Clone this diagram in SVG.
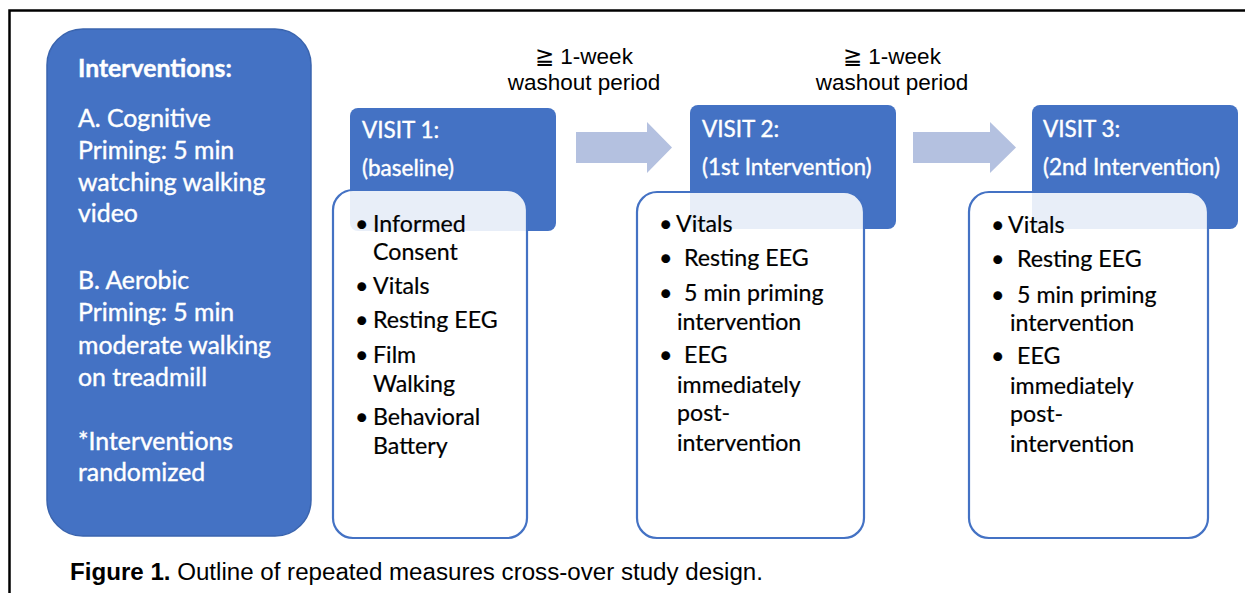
<svg xmlns="http://www.w3.org/2000/svg" width="1245" height="593" viewBox="0 0 1245 593">
<style>
.frame{fill:none;stroke:#000;stroke-width:2.5}
.intv{fill:#4472C4;stroke:#3A64AE;stroke-width:1.5}
.hdr{fill:#4472C4}
.body{fill:#fff;fill-opacity:0.88;stroke:#4472C4;stroke-width:2.2}
.arrow{fill:#B4C1E0}
.wt{font-family:"Lato","Open Sans",sans-serif;fill:#fff;stroke:#fff;stroke-width:0.4;font-size:24.8px}
.ht{font-family:"Lato","Open Sans",sans-serif;fill:#fff;stroke:#fff;stroke-width:0.4;font-size:22.5px}
.bt{font-family:"Lato","Open Sans",sans-serif;fill:#000;stroke:#000;stroke-width:0.2;font-size:23.2px}
.wash{font-family:"Liberation Sans",Arial,sans-serif;fill:#000;font-size:22.5px;text-anchor:middle}
.cap{font-family:"Liberation Sans",Arial,sans-serif;fill:#000;font-size:23px}
</style>
<path class="frame" d="M9.5,593 V10.5 H1245"/>
<g id="interventions">
<rect class="intv" x="47" y="29" width="264" height="507" rx="36"/>
<text class="wt" x="78" y="77" font-weight="bold" stroke-width="0">Interventions:</text>
<text class="wt" x="78" y="127">A. Cognitive</text>
<text class="wt" x="78" y="159">Priming: 5 min</text>
<text class="wt" x="78" y="191">watching walking</text>
<text class="wt" x="78" y="222">video</text>
<text class="wt" x="78" y="289">B. Aerobic</text>
<text class="wt" x="78" y="321">Priming: 5 min</text>
<text class="wt" x="78" y="354">moderate walking</text>
<text class="wt" x="78" y="386">on treadmill</text>
<text class="wt" x="78" y="450">*Interventions</text>
<text class="wt" x="78" y="481">randomized</text>
</g>
<g id="connectors">
<polygon class="arrow" points="576,132 647,132 647,122 672,147.5 647,173 647,163 576,163"/>
<polygon class="arrow" points="913,132 990,132 990,122 1016,147.5 990,173 990,163 913,163"/>
<text class="wash" x="584" y="64">≧ 1-week</text>
<text class="wash" x="584" y="90">washout period</text>
<text class="wash" x="892" y="64">≧ 1-week</text>
<text class="wash" x="892" y="90">washout period</text>
</g>
<g id="visit1">
<rect class="hdr" x="350" y="108" width="206" height="123" rx="8"/>
<text class="ht" x="362" y="138">VISIT 1:</text>
<text class="ht" x="362" y="176">(baseline)</text>
<rect class="body" x="333" y="190" width="194" height="348" rx="20"/>
<g class="bt">
<text x="355" y="232">•</text><text x="373" y="232">Informed</text>
<text x="373" y="260">Consent</text>
<text x="355" y="294">•</text><text x="373" y="294">Vitals</text>
<text x="355" y="328">•</text><text x="373" y="328">Resting EEG</text>
<text x="355" y="363">•</text><text x="373" y="363">Film</text>
<text x="373" y="392">Walking</text>
<text x="355" y="425">•</text><text x="373" y="425">Behavioral</text>
<text x="373" y="454">Battery</text>
</g>
</g>
<g id="visit2">
<rect class="hdr" x="690" y="105" width="206" height="124" rx="8"/>
<text class="ht" x="702" y="137">VISIT 2:</text>
<text class="ht" x="702" y="175">(1st Intervention)</text>
<rect class="body" x="637" y="192" width="227" height="346" rx="20"/>
<g class="bt">
<text x="659" y="232">•</text><text x="676" y="232">Vitals</text>
<text x="659" y="266">•</text><text x="684" y="266">Resting EEG</text>
<text x="659" y="301">•</text><text x="684" y="301">5 min priming</text>
<text x="677" y="330">intervention</text>
<text x="659" y="363">•</text><text x="684" y="363">EEG</text>
<text x="677" y="393">immediately</text>
<text x="677" y="421">post-</text>
<text x="677" y="451">intervention</text>
</g>
</g>
<g id="visit3">
<rect class="hdr" x="1032" y="105" width="206" height="124" rx="8"/>
<text class="ht" x="1043" y="137">VISIT 3:</text>
<text class="ht" x="1043" y="175">(2nd Intervention)</text>
<rect class="body" x="969" y="192" width="239" height="346" rx="20"/>
<g class="bt">
<text x="991" y="233">•</text><text x="1008" y="233">Vitals</text>
<text x="991" y="267">•</text><text x="1017" y="267">Resting EEG</text>
<text x="991" y="303">•</text><text x="1017" y="303">5 min priming</text>
<text x="1010" y="331">intervention</text>
<text x="991" y="364">•</text><text x="1017" y="364">EEG</text>
<text x="1010" y="394">immediately</text>
<text x="1010" y="422">post-</text>
<text x="1010" y="452">intervention</text>
</g>
</g>
<text class="cap" x="70" y="580" textLength="693" lengthAdjust="spacingAndGlyphs"><tspan font-weight="bold">Figure 1.</tspan> Outline of repeated measures cross-over study design.</text>
</svg>
